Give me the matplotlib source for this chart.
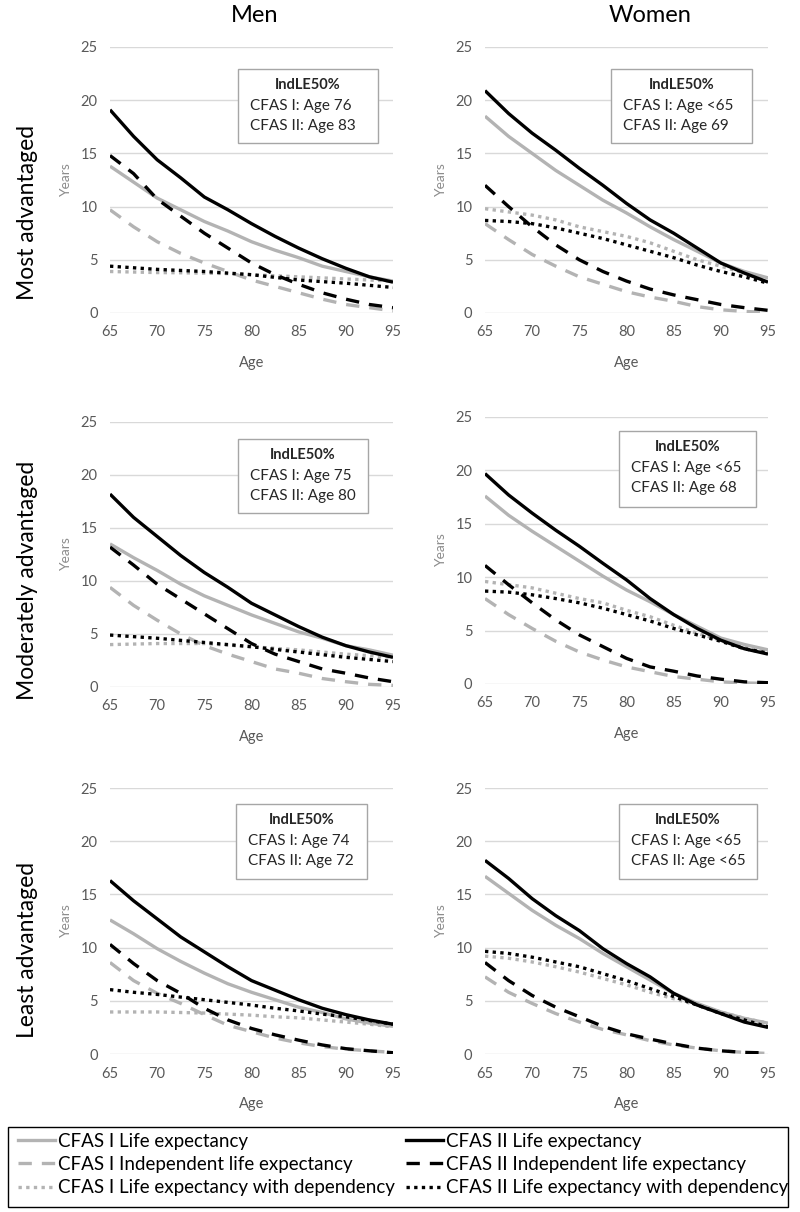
import matplotlib
matplotlib.use("Agg")
import matplotlib.pyplot as plt
from matplotlib.patches import Rectangle
from matplotlib.lines import Line2D

plt.rcParams['font.family'] = ['Lato', 'DejaVu Sans']

# ages read at 2.5-year steps
ages = [65, 67.5, 70, 72.5, 75, 77.5, 80, 82.5, 85, 87.5, 90, 92.5, 95]

# Most advantaged, men
ma_m_le1 = [13.8, 12.3, 10.8, 9.7, 8.6, 7.7, 6.7, 5.9, 5.2, 4.4, 3.9, 3.4, 3.0]
ma_m_ile1 = [9.7, 8.1, 6.7, 5.6, 4.7, 3.9, 3.1, 2.5, 1.9, 1.3, 0.8, 0.5, 0.2]
ma_m_dep1 = [3.9, 3.85, 3.8, 3.78, 3.75, 3.7, 3.6, 3.5, 3.4, 3.3, 3.2, 3.1, 3.0]
ma_m_le2 = [19.1, 16.6, 14.4, 12.7, 10.9, 9.7, 8.4, 7.2, 6.1, 5.1, 4.2, 3.4, 2.9]
ma_m_ile2 = [14.8, 13.1, 10.7, 9.1, 7.5, 6.1, 4.7, 3.6, 2.7, 1.9, 1.3, 0.8, 0.5]
ma_m_dep2 = [4.4, 4.25, 4.1, 4.0, 3.9, 3.75, 3.6, 3.35, 3.1, 2.95, 2.8, 2.6, 2.4]

# Most advantaged, women
ma_w_le1 = [18.5, 16.6, 15.0, 13.4, 12.0, 10.6, 9.4, 8.1, 6.9, 5.8, 4.7, 3.9, 3.3]
ma_w_ile1 = [8.4, 6.9, 5.5, 4.4, 3.4, 2.7, 2.0, 1.5, 1.1, 0.6, 0.3, 0.15, 0.05]
ma_w_dep1 = [9.8, 9.5, 9.2, 8.75, 8.1, 7.65, 7.2, 6.6, 5.8, 5.0, 4.4, 3.75, 3.3]
ma_w_le2 = [20.9, 18.75, 16.9, 15.3, 13.6, 12.0, 10.3, 8.75, 7.5, 6.1, 4.7, 3.75, 2.9]
ma_w_ile2 = [12.0, 10.0, 8.1, 6.4, 5.0, 3.9, 3.0, 2.25, 1.7, 1.25, 0.8, 0.5, 0.25]
ma_w_dep2 = [8.7, 8.6, 8.4, 8.0, 7.5, 7.0, 6.4, 5.8, 5.2, 4.5, 3.9, 3.4, 2.8]

# Moderately advantaged, men
md_m_le1 = [13.5, 12.2, 11.0, 9.7, 8.6, 7.7, 6.8, 6.0, 5.2, 4.6, 3.9, 3.5, 3.0]
md_m_ile1 = [9.4, 7.7, 6.3, 5.0, 3.9, 3.1, 2.4, 1.7, 1.3, 0.8, 0.5, 0.25, 0.15]
md_m_dep1 = [4.0, 4.05, 4.1, 4.1, 4.1, 3.95, 3.8, 3.65, 3.5, 3.3, 3.1, 2.95, 2.8]
md_m_le2 = [18.2, 16.0, 14.2, 12.4, 10.8, 9.4, 7.9, 6.8, 5.7, 4.7, 3.9, 3.3, 2.8]
md_m_ile2 = [13.2, 11.5, 9.7, 8.3, 6.9, 5.5, 4.1, 3.1, 2.4, 1.7, 1.3, 0.85, 0.5]
md_m_dep2 = [4.9, 4.75, 4.6, 4.4, 4.2, 4.0, 3.8, 3.55, 3.3, 3.05, 2.8, 2.6, 2.4]

# Moderately advantaged, women
md_w_le1 = [17.6, 15.8, 14.3, 12.9, 11.5, 10.1, 8.8, 7.7, 6.5, 5.4, 4.3, 3.7, 3.2]
md_w_ile1 = [8.0, 6.5, 5.2, 4.0, 3.0, 2.25, 1.6, 1.15, 0.7, 0.45, 0.2, 0.1, 0.05]
md_w_dep1 = [9.6, 9.3, 9.0, 8.5, 8.0, 7.6, 6.9, 6.3, 5.5, 4.75, 4.1, 3.5, 3.0]
md_w_le2 = [19.7, 17.7, 16.0, 14.4, 12.9, 11.3, 9.75, 8.0, 6.5, 5.2, 4.1, 3.3, 2.8]
md_w_ile2 = [11.1, 9.3, 7.6, 6.0, 4.6, 3.5, 2.4, 1.6, 1.2, 0.75, 0.45, 0.2, 0.12]
md_w_dep2 = [8.7, 8.6, 8.35, 8.0, 7.6, 7.1, 6.5, 5.9, 5.2, 4.6, 4.0, 3.3, 2.9]

# Least advantaged, men
la_m_le1 = [12.6, 11.3, 9.9, 8.7, 7.6, 6.6, 5.8, 5.1, 4.4, 3.9, 3.3, 2.9, 2.6]
la_m_ile1 = [8.6, 6.9, 5.7, 4.75, 3.7, 2.7, 2.1, 1.5, 1.05, 0.7, 0.45, 0.3, 0.15]
la_m_dep1 = [3.95, 3.95, 3.95, 3.9, 3.85, 3.75, 3.65, 3.5, 3.4, 3.2, 3.0, 2.8, 2.55]
la_m_le2 = [16.3, 14.4, 12.7, 11.0, 9.6, 8.2, 6.9, 6.0, 5.1, 4.3, 3.7, 3.2, 2.8]
la_m_ile2 = [10.3, 8.5, 6.9, 5.7, 4.3, 3.2, 2.4, 1.8, 1.3, 0.85, 0.5, 0.3, 0.12]
la_m_dep2 = [6.05, 5.8, 5.6, 5.35, 5.1, 4.85, 4.6, 4.3, 4.05, 3.75, 3.5, 3.15, 2.8]

# Least advantaged, women
la_w_le1 = [16.7, 15.1, 13.5, 12.1, 10.85, 9.45, 8.2, 6.95, 5.7, 4.75, 3.95, 3.35, 2.9]
la_w_ile1 = [7.25, 5.8, 4.75, 3.8, 3.0, 2.3, 1.8, 1.25, 0.85, 0.55, 0.3, 0.15, 0.05]
la_w_dep1 = [9.2, 9.0, 8.65, 8.2, 7.7, 7.1, 6.5, 5.8, 5.2, 4.6, 3.95, 3.35, 2.9]
la_w_le2 = [18.2, 16.5, 14.6, 13.0, 11.6, 9.9, 8.5, 7.25, 5.7, 4.6, 3.8, 3.0, 2.5]
la_w_ile2 = [8.6, 6.9, 5.5, 4.4, 3.5, 2.6, 1.9, 1.4, 0.95, 0.55, 0.3, 0.15, 0.1]
la_w_dep2 = [9.65, 9.45, 9.1, 8.65, 8.2, 7.55, 6.9, 6.15, 5.4, 4.6, 3.8, 3.2, 2.55]

row_labels = ["Most advantaged", "Moderately advantaged", "Least advantaged"]
col_labels = ["Men", "Women"]
indle_cfas1 = [["Age 76", "Age <65"], ["Age 75", "Age <65"], ["Age 74", "Age <65"]]
indle_cfas2 = [["Age 83", "Age 69"], ["Age 80", "Age 68"], ["Age 72", "Age <65"]]
series_names = ["CFAS I Life expectancy", "CFAS I Independent life expectancy",
                "CFAS I Life expectancy with dependency", "CFAS II Life expectancy",
                "CFAS II Independent life expectancy", "CFAS II Life expectancy with dependency"]

panels = [
    [[ma_m_le1, ma_m_ile1, ma_m_dep1, ma_m_le2, ma_m_ile2, ma_m_dep2],
     [ma_w_le1, ma_w_ile1, ma_w_dep1, ma_w_le2, ma_w_ile2, ma_w_dep2]],
    [[md_m_le1, md_m_ile1, md_m_dep1, md_m_le2, md_m_ile2, md_m_dep2],
     [md_w_le1, md_w_ile1, md_w_dep1, md_w_le2, md_w_ile2, md_w_dep2]],
    [[la_m_le1, la_m_ile1, la_m_dep1, la_m_le2, la_m_ile2, la_m_dep2],
     [la_w_le1, la_w_ile1, la_w_dep1, la_w_le2, la_w_ile2, la_w_dep2]],
]

GREY = "#b3b3b3"
styles = [
    dict(color=GREY, lw=2.4, ls="-"),
    dict(color=GREY, lw=2.4, ls=(0, (4, 3))),
    dict(color=GREY, lw=2.4, ls=(0, (1, 1.3))),
    dict(color="black", lw=2.4, ls="-"),
    dict(color="black", lw=2.4, ls=(0, (4, 3))),
    dict(color="black", lw=2.4, ls=(0, (1, 1.3))),
]

W, H = 800, 1212
fig = plt.figure(figsize=(8, 12.12), dpi=100)

# pixel extents of the plot areas: (x0, x1) and (y_top, y_bottom)
col_x = [(110, 393), (485, 768)]
row_y = [[(47, 313), (47, 313)], [(422, 687), (417, 684)], [(788, 1054), (788, 1054)]]
# annotation boxes in axes fraction: (x0, x1, y0, y1)
boxes = [[(0.452, 0.947, 0.639, 0.917), (0.445, 0.943, 0.639, 0.917)],
         [(0.452, 0.912, 0.657, 0.936), (0.473, 0.958, 0.663, 0.948)],
         [(0.445, 0.908, 0.658, 0.940), (0.473, 0.961, 0.658, 0.940)]]

TICK = "#595959"
for r in range(3):
    for c in range(2):
        x0, x1 = col_x[c]
        yt, yb = row_y[r][c]
        ax = fig.add_axes([x0 / W, 1 - yb / H, (x1 - x0) / W, (yb - yt) / H])
        for s, st in zip(panels[r][c], styles):
            ax.plot(ages, s, solid_capstyle="butt", dash_capstyle="butt", **st)
        ax.set_xlim(65, 95)
        ax.set_ylim(0, 25)
        ax.set_xticks(range(65, 96, 5))
        ax.set_yticks(range(0, 26, 5))
        ax.grid(axis="y", color="#d9d9d9", lw=1)
        ax.set_axisbelow(True)
        for sp in ax.spines.values():
            sp.set_visible(False)
        ax.tick_params(length=0, labelsize=10.5, labelcolor=TICK, pad=9)
        ax.set_xlabel("Age", fontsize=10.5, color=TICK, labelpad=12)
        ax.set_ylabel("Years", fontsize=10, color="#8c8c8c", labelpad=6)
        ax.margins(0)

        bx0, bx1, by0, by1 = boxes[r][c]
        ax.add_patch(Rectangle((bx0, by0), bx1 - bx0, by1 - by0, transform=ax.transAxes,
                               facecolor="white", edgecolor="#a6a6a6", lw=1, zorder=5))
        px = 1.0 / (yb - yt)
        ax.text((bx0 + bx1) / 2, by1 - 16 * px, "IndLE50%", transform=ax.transAxes,
                ha="center", va="center", fontsize=10.5, fontweight="bold", color="#262626", zorder=6)
        ax.text(bx0 + 12 / 283, by1 - 37 * px, "CFAS I: " + indle_cfas1[r][c], transform=ax.transAxes,
                ha="left", va="center", fontsize=11, color="#262626", zorder=6)
        ax.text(bx0 + 12 / 283, by1 - 57 * px, "CFAS II: " + indle_cfas2[r][c], transform=ax.transAxes,
                ha="left", va="center", fontsize=11, color="#262626", zorder=6)

# column titles
fig.text(255 / W, 1 - 16 / H, col_labels[0], ha="center", va="center", fontsize=17)
fig.text(650 / W, 1 - 16 / H, col_labels[1], ha="center", va="center", fontsize=17)
# row labels
for lab, yc in zip(row_labels, [212, 580, 950]):
    fig.text(28 / W, 1 - yc / H, lab, ha="center", va="center", rotation=90, fontsize=16.5)

# legend: frame plus two frameless columns
fig.patches.append(Rectangle((8 / W, 1 - 1207 / H), 780 / W, 80 / H, transform=fig.transFigure,
                             facecolor="white", edgecolor="black", lw=1))
handles = [Line2D([], [], **st) for st in styles]
for i, xl in enumerate([14, 402]):
    leg = fig.legend(handles[3 * i:3 * i + 3], series_names[3 * i:3 * i + 3], loc="upper left",
                     bbox_to_anchor=(xl / W, 1 - 1129 / H), fontsize=13.5, frameon=False,
                     handlelength=2.0, handletextpad=0.15, labelspacing=0.33, borderpad=0.2,
                     borderaxespad=0)

fig.savefig("out.png", dpi=100)
